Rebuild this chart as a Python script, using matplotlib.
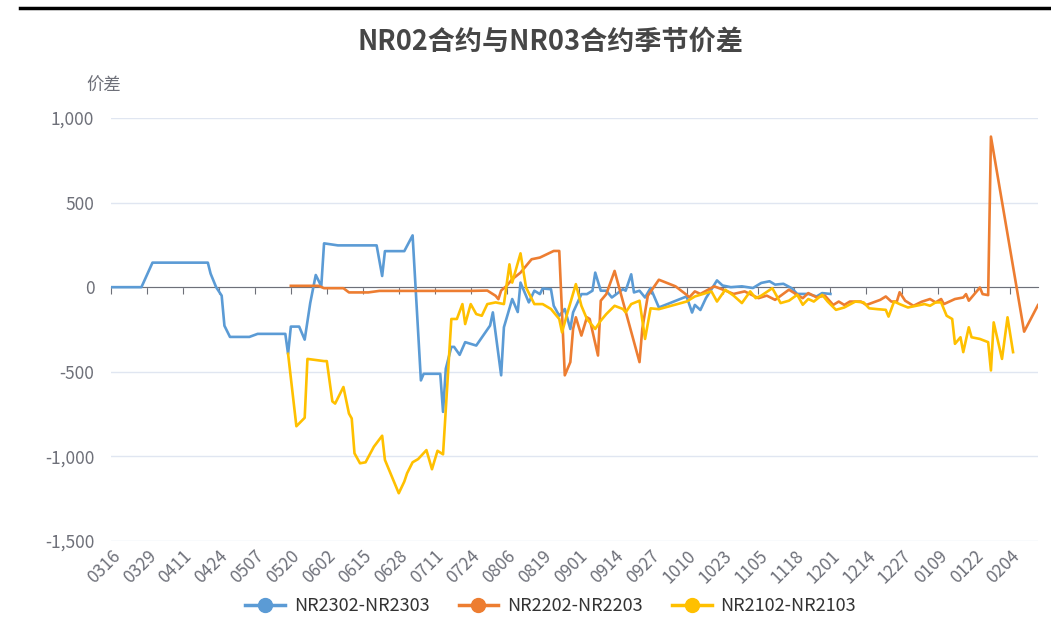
import numpy as np
import pandas as pd
import matplotlib
matplotlib.use('Agg')
import matplotlib.pyplot as plt
from matplotlib.lines import Line2D
from matplotlib.ticker import FuncFormatter

plt.rcParams['font.family'] = ['Noto Sans CJK SC', 'DejaVu Sans']

# daily category axis, labels every 13th day
categories = pd.date_range('2022-03-16', '2023-02-14').strftime('%m%d').tolist()

nr2302_dates = ['0316', '0327', '0331', '0420', '0421', '0423', '0425', '0426', '0428', '0505',
                '0508', '0518', '0519', '0520', '0523', '0525', '0527', '0529', '0531', '0601',
                '0606', '0620', '0622', '0623', '0630', '0703', '0706', '0707', '0713', '0714',
                '0715', '0717', '0718', '0720', '0722', '0726', '0731', '0801', '0804', '0805',
                '0808', '0810', '0811', '0814', '0816', '0818', '0819', '0822', '0823', '0825',
                '0827', '0829', '0830', '0902', '0904', '0906', '0907', '0909', '0911', '0913',
                '0917', '0918', '0920', '0921', '0923', '0925', '0927', '0930', '1010', '1012',
                '1013', '1015', '1017', '1021', '1023', '1026', '1030', '1103', '1106', '1109',
                '1111', '1114', '1117', '1119', '1123', '1126', '1128', '1201']
nr2302_values = [0, 0, 145, 145, 80, 0, -50, -228, -294, -294,
                 -276, -276, -395, -233, -233, -310, -94, 72, 6, 259,
                 247, 247, 66, 213, 213, 306, -551, -512, -512, -737,
                 -482, -353, -353, -400, -325, -345, -227, -149, -521, -237,
                 -70, -147, 27, -90, -21, -41, -8, -12, -110, -169,
                 -129, -247, -149, -41, -41, -21, 86, -21, -21, -61,
                 -12, -21, 76, -31, -21, -61, -5, -120, -55, -150,
                 -105, -135, -65, 40, 10, 0, 5, -5, 25, 35,
                 15, 20, -6, -40, -40, -55, -35, -40]

nr2202_dates = ['0520', '0530', '0601', '0608', '0610', '0617', '0621', '0724', '0730', '0802',
                '0803', '0804', '0806', '0808', '0811', '0815', '0818', '0823', '0825', '0827',
                '0829', '0830', '0831', '0902', '0904', '0905', '0908', '0909', '0911', '0914',
                '0923', '0924', '0926', '0930', '1006', '1010', '1011', '1013', '1015', '1020',
                '1024', '1027', '1031', '1105', '1108', '1111', '1116', '1121', '1123', '1126',
                '1129', '1202', '1204', '1206', '1208', '1212', '1214', '1219', '1221', '1223',
                '1225', '1226', '1228', '1231', '0103', '0106', '0108', '0110', '0111', '0115',
                '0118', '0119', '0120', '0123', '0124', '0125', '0127', '0128', '0209', '0214']
nr2202_values = [8, 8, -6, -6, -31, -31, -22, -22, -20, -51,
                 -71, -20, 8, 47, 86, 165, 175, 214, 214, -521,
                 -443, -247, -178, -286, -178, -188, -404, -80, -41, 96,
                 -443, -247, -51, 44, 5, -45, -60, -25, -40, 5,
                 -20, -40, -25, -65, -50, -75, -15, -65, -35, -60,
                 -50, -105, -85, -105, -85, -85, -105, -75, -55, -85,
                 -85, -30, -80, -110, -86, -70, -90, -70, -100, -70,
                 -61, -41, -80, -22, -2, -41, -47, 890, -263, -106]

nr2102_dates = ['0519', '0522', '0525', '0526', '0601', '0602', '0604', '0605', '0608', '0610',
                '0611', '0612', '0614', '0616', '0619', '0622', '0623', '0628', '0630', '0701',
                '0703', '0705', '0708', '0710', '0712', '0714', '0717', '0719', '0721', '0722',
                '0724', '0726', '0728', '0730', '0802', '0805', '0807', '0808', '0811', '0813',
                '0816', '0819', '0822', '0825', '0826', '0828', '0831', '0902', '0904', '0907',
                '0909', '0911', '0914', '0917', '0918', '0920', '0923', '0925', '0927', '0930',
                '1010', '1013', '1016', '1019', '1021', '1024', '1027', '1030', '1102', '1104',
                '1106', '1110', '1113', '1116', '1119', '1121', '1123', '1125', '1128', '1130',
                '1203', '1206', '1210', '1213', '1215', '1218', '1221', '1222', '1224', '1226',
                '1229', '0101', '0104', '0106', '0108', '0110', '0112', '0114', '0115', '0117',
                '0118', '0120', '0121', '0124', '0127', '0128', '0129', '0201', '0203', '0205']
nr2102_values = [-394, -822, -772, -424, -437, -437, -675, -688, -590, -747,
                 -776, -982, -1041, -1035, -943, -878, -1021, -1218, -1149, -1100,
                 -1035, -1016, -963, -1076, -967, -988, -188, -188, -100, -218,
                 -100, -159, -169, -100, -90, -100, 135, 27, 200, -2,
                 -100, -100, -129, -188, -267, -149, 18, -110, -188, -247,
                 -198, -159, -110, -129, -149, -100, -80, -306, -125, -130,
                 -85, -55, -40, -25, -85, -15, -50, -94, -25, -65,
                 -50, -6, -94, -80, -45, -104, -70, -85, -45, -85,
                 -134, -120, -85, -90, -125, -130, -134, -174, -85, -100,
                 -120, -110, -100, -110, -90, -90, -169, -188, -335, -296,
                 -384, -237, -296, -306, -325, -492, -208, -424, -178, -384]

series = [
    ('NR2302-NR2303', nr2302_dates, nr2302_values, '#5B9BD5'),
    ('NR2202-NR2203', nr2202_dates, nr2202_values, '#ED7D31'),
    ('NR2102-NR2103', nr2102_dates, nr2102_values, '#FFC000'),
]

axis_gray = '#6E7079'
pos = {d: i for i, d in enumerate(categories)}

fig = plt.figure(figsize=(10.51, 6.44), dpi=100)
ax = fig.add_axes([0.1056, 0.16, 0.882, 0.6568])

handles = []
for name, dates, values, color in series:
    x = [pos[d] for d in dates]
    ax.plot(x, values, color=color, lw=1.9, zorder=3, solid_joinstyle='round')
    handles.append(Line2D([0], [0], color=color, lw=2.5, marker='o', markersize=10,
                          label=name))

ax.set_xlim(0, len(categories) - 1)
ax.set_ylim(-1500, 1000)
ax.set_yticks(np.arange(-1500, 1001, 500))
ax.yaxis.set_major_formatter(FuncFormatter(lambda v, p: f'{int(v):,}'))
ax.tick_params(axis='y', length=0, pad=12, labelsize=12.5, labelcolor=axis_gray)
ax.grid(axis='y', color='#E0E6F1', lw=1)
ax.set_axisbelow(True)

for s in ['top', 'right', 'left']:
    ax.spines[s].set_visible(False)
ax.spines['bottom'].set_position(('data', 0))
ax.spines['bottom'].set_color(axis_gray)
ax.spines['bottom'].set_zorder(2)

tick_pos = list(range(0, len(categories), 13))
ax.set_xticks(tick_pos)
ax.tick_params(axis='x', direction='out', length=5, color=axis_gray, labelbottom=False)

sec = ax.secondary_xaxis(0)
sec.set_xticks(tick_pos, [categories[i] for i in tick_pos])
sec.tick_params(length=0, pad=4, labelsize=12.5, labelcolor=axis_gray)
sec.spines['bottom'].set_visible(False)
for lab in sec.get_xticklabels():
    lab.set_rotation(45)
    lab.set_ha('right')
    lab.set_rotation_mode('anchor')

fig.text(0.524, 0.935, 'NR02合约与NR03合约季节价差', ha='center', va='center',
         fontsize=19.5, fontweight='bold', color='#464646')
fig.text(0.099, 0.866, '价差', ha='center', va='center', fontsize=12.5, color=axis_gray)

fig.legend(handles=handles, loc='center', bbox_to_anchor=(0.524, 0.059), ncol=3,
           frameon=False, fontsize=13, handlelength=2.2, handletextpad=0.5,
           columnspacing=1.6, labelcolor='#333333')

fig.add_artist(Line2D([0.019, 1.0], [0.987, 0.987], transform=fig.transFigure,
                      color='black', lw=2.5))

fig.savefig('out.png', dpi=100)
